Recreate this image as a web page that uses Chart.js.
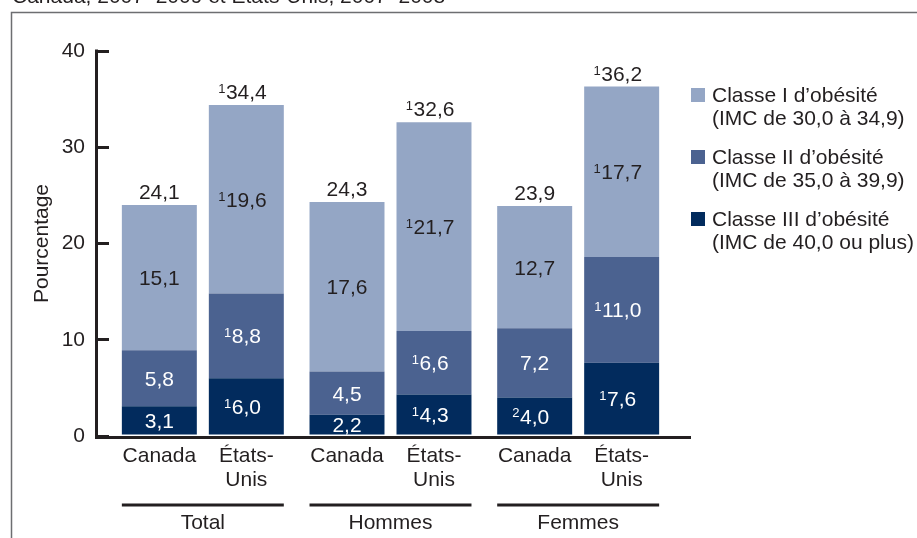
<!DOCTYPE html>
<html><head><meta charset="utf-8">
<script src="https://cdn.jsdelivr.net/npm/chart.js@4.4.1/dist/chart.umd.min.js"></script>
<style>html,body{margin:0;padding:0;background:#fff;} canvas{display:block;}</style>
</head><body>
<canvas id="c" width="917" height="538"></canvas>
<script>
// ---------- data ----------
const groups = ['Total', 'Hommes', 'Femmes'];
const countryLabels = [['Canada'], ['États-', 'Unis']];
const classNames = [
  ['Classe I d’obésité', '(IMC de 30,0 à 34,9)'],
  ['Classe II d’obésité', '(IMC de 35,0 à 39,9)'],
  ['Classe III d’obésité', '(IMC de 40,0 ou plus)']
];
const chartTitle = 'Canada, 2007–2009 et États-Unis, 2007–2008';
const yAxisTitle = 'Pourcentage';
const yMin = 0, yMax = 40, yStep = 10;

const canadaClassI   = [15.1, 17.6, 12.7];
const canadaClassII  = [5.8, 4.5, 7.2];
const canadaClassIII = [3.1, 2.2, 4.0];
const usClassI       = [19.6, 21.7, 17.7];
const usClassII      = [8.8, 6.6, 11.0];
const usClassIII     = [6.0, 4.3, 7.6];
const canadaTotals   = [24.1, 24.3, 23.9];
const usTotals       = [34.4, 32.6, 36.2];

// superscript note markers
const canadaNotesI     = ['', '', ''];
const canadaNotesII    = ['', '', ''];
const canadaNotesIII   = ['', '', '2'];
const canadaNotesTotal = ['', '', ''];
const usNotesI     = ['1', '1', '1'];
const usNotesII    = ['1', '1', '1'];
const usNotesIII   = ['1', '1', '1'];
const usNotesTotal = ['1', '1', '1'];

// ---------- styles ----------
const FONT = '"Liberation Sans", Arial, Helvetica, sans-serif';
const FS = 21;
const TEXT = '#231f20';
const classColors = ['#94a6c5', '#4b6290', '#022b5d'];
const labelColors = [TEXT, '#ffffff', '#ffffff'];

function mk(cls, data, notes, stack, totals, totalNotes) {
  return {
    label: classNames[cls].join(' '),
    data: data, stack: stack,
    backgroundColor: classColors[cls], borderWidth: 0,
    cls: cls, notes: notes, totals: totals || null, totalNotes: totalNotes || null
  };
}

const fmt = v => v.toFixed(1).replace('.', ',');

function drawNum(ctx, text, note, cx, baseY, color, size) {
  ctx.fillStyle = color;
  ctx.font = size + 'px ' + FONT;
  ctx.textAlign = 'center';
  ctx.textBaseline = 'alphabetic';
  ctx.fillText(text, cx, baseY);
  if (note) {
    const w = ctx.measureText(text).width;
    ctx.font = Math.round(size * 0.6) + 'px ' + FONT;
    ctx.textAlign = 'right';
    ctx.fillText(note, cx - w / 2 - 0.5, baseY - size * 0.29);
  }
}

const deco = {
  id: 'deco',
  beforeDraw(chart) {
    const ctx = chart.ctx;
    ctx.save();
    // frame
    ctx.strokeStyle = '#6d6e71';
    ctx.lineWidth = 1.5;
    ctx.beginPath();
    ctx.moveTo(11.5, 538); ctx.lineTo(11.5, 12.5); ctx.lineTo(917, 12.5);
    ctx.stroke();
    // clipped title at very top
    ctx.fillStyle = TEXT;
    ctx.font = FS + 'px ' + FONT;
    ctx.textAlign = 'left';
    ctx.textBaseline = 'alphabetic';
    ctx.fillText(chartTitle, 12, 3);
    ctx.restore();
  },
  afterDraw(chart) {
    const ctx = chart.ctx;
    const ys = chart.scales.y;
    const ca = chart.chartArea;
    const tickLen = ys.options.grid.tickLength;
    const axisX = ca.left - tickLen + 1.5;
    const y0 = ys.getPixelForValue(yMin);
    const yTop = ys.getPixelForValue(yMax);
    ctx.save();
    // axes lines
    ctx.strokeStyle = TEXT;
    ctx.lineWidth = 3;
    ctx.beginPath();
    ctx.moveTo(axisX, yTop - 1.5);
    ctx.lineTo(axisX, y0 + 1.5);
    ctx.lineTo(ca.right + 19, y0 + 1.5);
    ctx.stroke();

    // value labels
    const bars = [];
    chart.data.datasets.forEach((ds, di) => {
      const meta = chart.getDatasetMeta(di);
      meta.data.forEach((el, i) => {
        const p = el.getProps(['x', 'y', 'base', 'width'], true);
        const cy = (p.y + p.base) / 2;
        drawNum(ctx, fmt(ds.data[i]), ds.notes[i], p.x, cy + 7.5, labelColors[ds.cls], FS);
        if (ds.totals) {
          drawNum(ctx, fmt(ds.totals[i]), ds.totalNotes[i], p.x, p.y - 6, TEXT, FS);
        }
        bars.push({stack: ds.stack, i: i, x: p.x, w: p.width});
      });
    });

    // country labels and group underlines
    ctx.fillStyle = TEXT;
    ctx.font = FS + 'px ' + FONT;
    ctx.textAlign = 'center';
    ctx.textBaseline = 'alphabetic';
    const stacks = ['ca', 'us'];
    groups.forEach((g, i) => {
      let left = Infinity, right = -Infinity;
      stacks.forEach((s, si) => {
        const b = bars.find(bb => bb.stack === s && bb.i === i);
        left = Math.min(left, b.x - b.w / 2);
        right = Math.max(right, b.x + b.w / 2);
        countryLabels[si].forEach((line, li) => {
          ctx.fillText(line, b.x, y0 + 26 + li * 24);
        });
      });
      ctx.beginPath();
      ctx.moveTo(left, y0 + 69);
      ctx.lineTo(right, y0 + 69);
      ctx.stroke();
    });

    // legend
    const lx = 691, tx = 712;
    classNames.forEach((lines, k) => {
      const base = 102 + k * 62;
      ctx.fillStyle = classColors[k];
      ctx.fillRect(lx, base - 14, 14, 14);
      ctx.fillStyle = TEXT;
      ctx.textAlign = 'left';
      lines.forEach((t, li) => ctx.fillText(t, tx, base + li * 23));
    });
    ctx.restore();
  }
};

new Chart(document.getElementById('c'), {
  type: 'bar',
  data: {
    labels: groups,
    datasets: [
      mk(2, canadaClassIII, canadaNotesIII, 'ca'),
      mk(1, canadaClassII, canadaNotesII, 'ca'),
      mk(0, canadaClassI, canadaNotesI, 'ca', canadaTotals, canadaNotesTotal),
      mk(2, usClassIII, usNotesIII, 'us'),
      mk(1, usClassII, usNotesII, 'us'),
      mk(0, usClassI, usNotesI, 'us', usTotals, usNotesTotal)
    ]
  },
  options: {
    responsive: false,
    animation: false,
    events: [],
    devicePixelRatio: 1,
    categoryPercentage: 0.927,
    barPercentage: 0.862,
    layout: {padding: {top: 51, left: 0, right: 245, bottom: 0}},
    plugins: {legend: {display: false}, tooltip: {enabled: false}, title: {display: false}},
    scales: {
      x: {
        stacked: true,
        grid: {display: false},
        border: {display: false},
        ticks: {color: TEXT, font: {family: FONT, size: FS}, padding: 67, maxRotation: 0},
        afterFit: s => { s.height = 102; }
      },
      y: {
        stacked: true,
        min: yMin, max: yMax,
        ticks: {stepSize: yStep, color: TEXT, font: {family: FONT, size: FS}, padding: 10},
        grid: {display: true, drawOnChartArea: false, drawTicks: true, tickLength: 14, lineWidth: 3, color: TEXT},
        border: {display: false},
        title: {display: true, text: yAxisTitle, color: TEXT, font: {family: FONT, size: FS}, padding: {top: 30, bottom: 0}},
        afterFit: s => { s.width = 109; }
      }
    }
  },
  plugins: [deco]
});
</script>
</body></html>
